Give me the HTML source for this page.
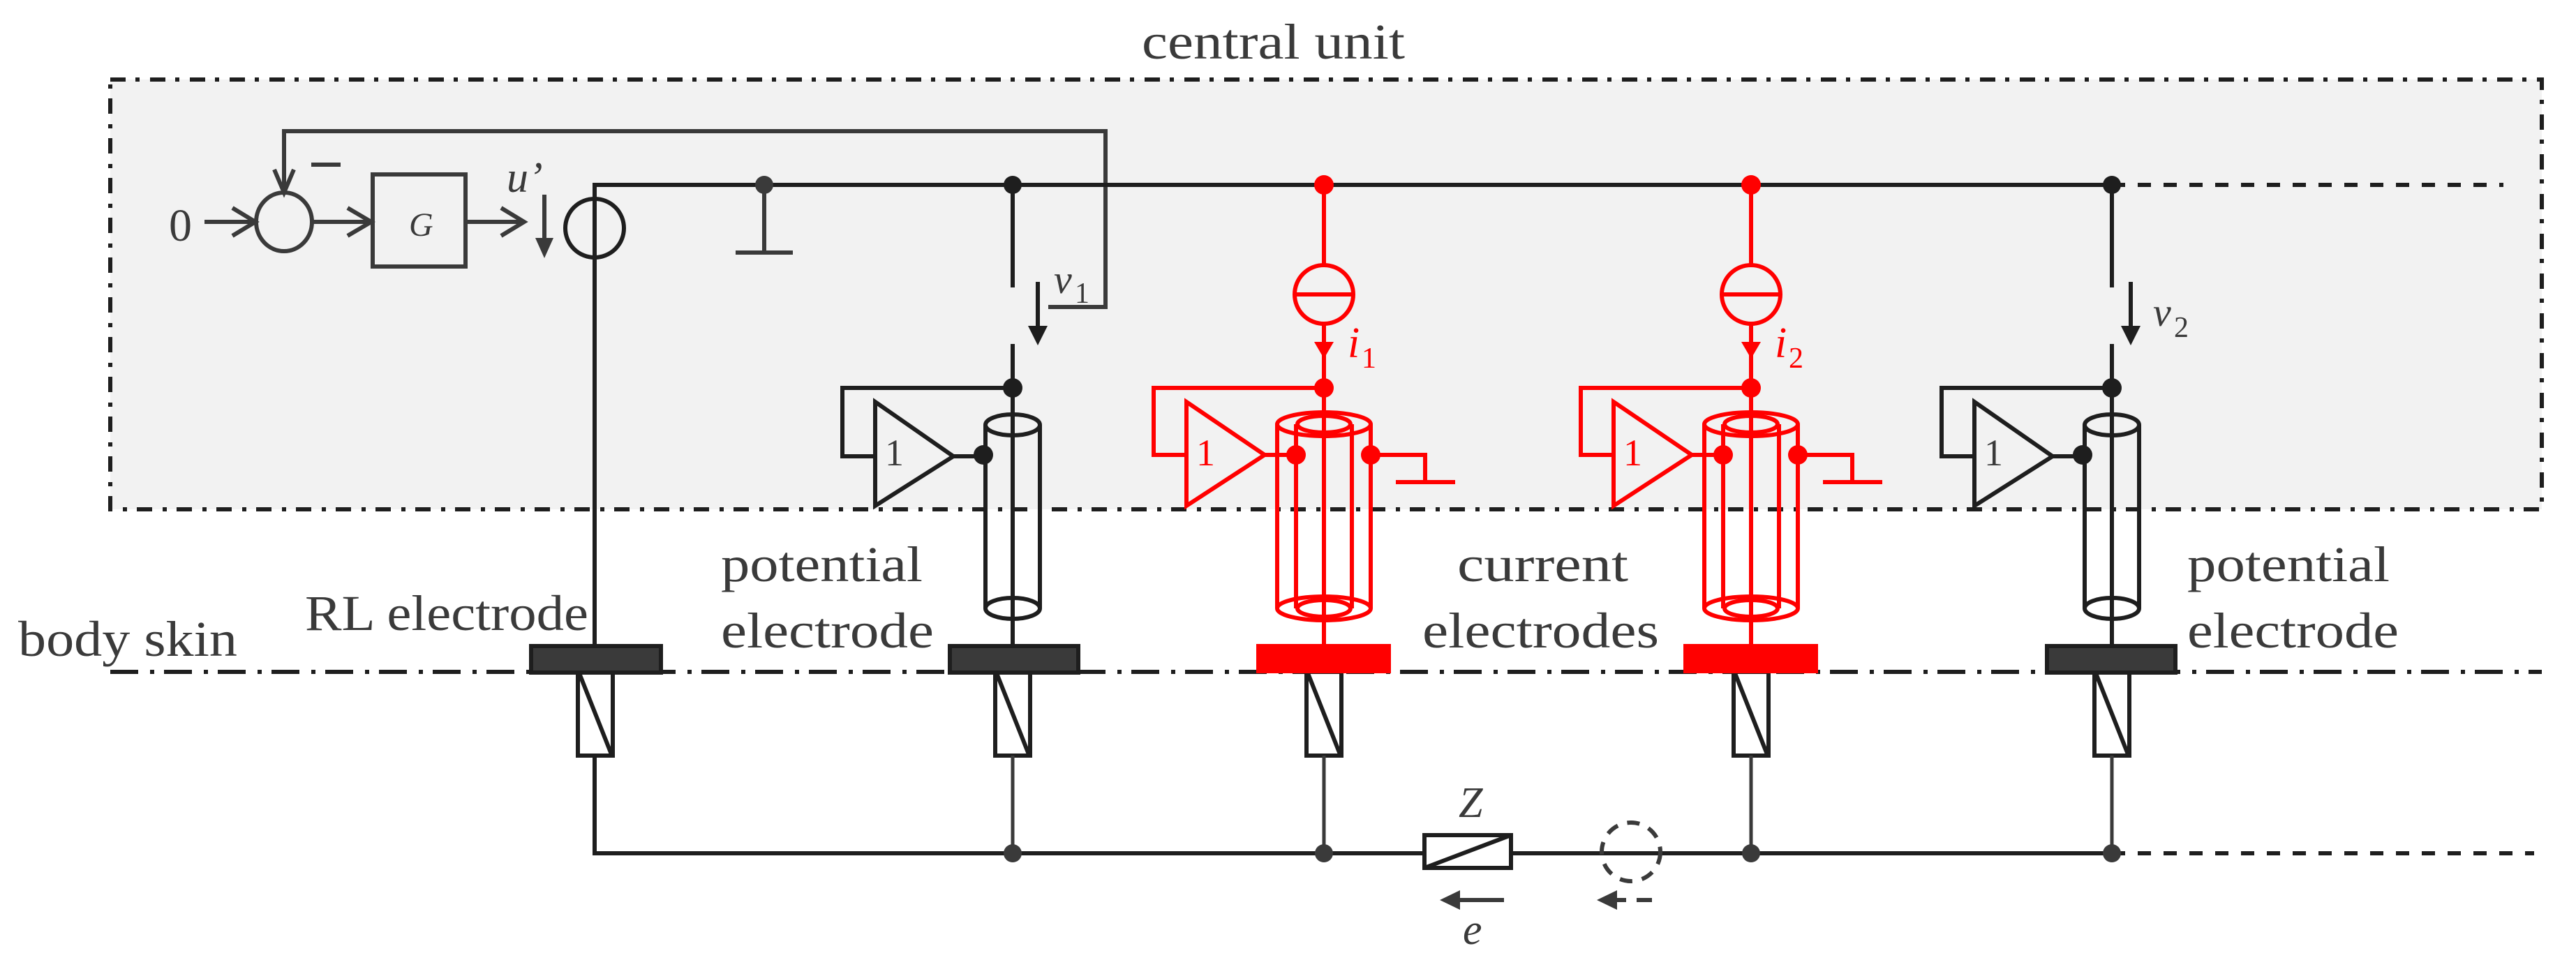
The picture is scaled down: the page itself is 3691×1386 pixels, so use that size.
<!DOCTYPE html>
<html><head><meta charset="utf-8"><style>
html,body{margin:0;padding:0;background:#fff;}
svg{display:block;}
text{font-family:"Liberation Serif",serif;fill:#3a3a3a;}
</style></head><body>
<svg width="3691" height="1386" viewBox="0 0 3691 1386" xmlns="http://www.w3.org/2000/svg">
<!-- central unit box -->
<rect x="158" y="114" width="3484" height="616" fill="#f2f2f2" stroke="#1e1e1e" stroke-width="6" stroke-dasharray="22 14 6 15"/>
<text x="1636" y="84" font-size="72" textLength="377" lengthAdjust="spacingAndGlyphs">central unit</text>

<!-- skin line -->
<line x1="158" y1="963" x2="3642" y2="963" stroke="#1e1e1e" stroke-width="6" stroke-dasharray="40 17 6 14"/>

<g stroke="#3a3a3a" stroke-width="6" fill="none">
<polyline points="1502,440 1584,440 1584,188 407,188 407,270"/>
<polyline points="393,243 407,276 421,243"/>
<line x1="446" y1="236" x2="488" y2="236"/>
<ellipse cx="407" cy="318" rx="40" ry="42"/>
<line x1="293" y1="318" x2="364" y2="318"/>
<polyline points="333,298 366,318 333,338"/>
<line x1="448" y1="318" x2="530" y2="318"/>
<polyline points="498,298 532,318 498,338"/>
<rect x="534" y="250" width="133" height="132"/>
<line x1="667" y1="318" x2="749" y2="318"/>
<polyline points="718,298 751,318 718,338"/>
<line x1="780" y1="279" x2="780" y2="345"/>
<line x1="1095" y1="265" x2="1095" y2="362"/>
<line x1="1054" y1="362" x2="1136" y2="362"/>
</g>
<polygon points="767,341 793,341 780,370" fill="#3a3a3a"/>
<text x="242" y="345" font-size="66">0</text>
<text x="586" y="338" font-size="48" font-style="italic">G</text>
<text x="726" y="275" font-size="62" font-style="italic">u’</text>

<g stroke="#1e1e1e" stroke-width="6" fill="none">
<polyline points="852,1083 852,265 3026,265"/>
<line x1="3026" y1="265" x2="3587" y2="265" stroke-dasharray="19 18"/>
<ellipse cx="852" cy="327" rx="42" ry="42"/>
<polyline points="852,1083 852,1223 2041,1223"/>
<line x1="2165" y1="1223" x2="3026" y2="1223"/>
<line x1="3026" y1="1223" x2="3631" y2="1223" stroke-dasharray="19 18"/>
<rect x="2041" y="1197" width="124" height="47"/>
<line x1="2041" y1="1244" x2="2165" y2="1197"/>
</g>
<circle cx="1095" cy="265" r="13" fill="#3a3a3a"/>

<text x="2090" y="1171" font-size="62" font-style="italic">Z</text>
<line x1="2085" y1="1290" x2="2155" y2="1290" stroke="#3a3a3a" stroke-width="6"/>
<polygon points="2063,1290 2092,1276 2092,1304" fill="#3a3a3a"/>
<text x="2096" y="1353" font-size="62" font-style="italic">e</text>
<circle cx="2337" cy="1221" r="42" fill="none" stroke="#3a3a3a" stroke-width="6" stroke-dasharray="18 14"/>
<polygon points="2288,1290 2317,1276 2317,1304" fill="#3a3a3a"/>
<line x1="2315" y1="1290" x2="2330" y2="1290" stroke="#3a3a3a" stroke-width="6"/>
<line x1="2345" y1="1290" x2="2367" y2="1290" stroke="#3a3a3a" stroke-width="6"/>

<g stroke="#1e1e1e" stroke-width="6" fill="#fff">
<rect x="828" y="963" width="50" height="120"/><line x1="830" y1="965" x2="876" y2="1081"/>
<rect x="1426" y="963" width="50" height="120"/><line x1="1428" y1="965" x2="1474" y2="1081"/>
<rect x="1872" y="963" width="50" height="120"/><line x1="1874" y1="965" x2="1920" y2="1081"/>
<rect x="2484" y="963" width="50" height="120"/><line x1="2486" y1="965" x2="2532" y2="1081"/>
<rect x="3001" y="963" width="50" height="120"/><line x1="3003" y1="965" x2="3049" y2="1081"/>
</g>
<g stroke="#3a3a3a" stroke-width="5">
<line x1="1451" y1="1083" x2="1451" y2="1223"/>
<line x1="1897" y1="1083" x2="1897" y2="1223"/>
<line x1="2509" y1="1083" x2="2509" y2="1223"/>
<line x1="3026" y1="1083" x2="3026" y2="1223"/>
</g>
<g fill="#3a3a3a">
<circle cx="1451" cy="1223" r="13"/><circle cx="1897" cy="1223" r="13"/>
<circle cx="2509" cy="1223" r="13"/><circle cx="3026" cy="1223" r="13"/>
</g>

<g stroke="#1e1e1e" stroke-width="6" fill="#3a3a3a">
<rect x="761" y="926" width="186" height="38"/>
<rect x="1361" y="926" width="184" height="38"/>
<rect x="2933" y="926" width="184" height="38"/>
</g>
<rect x="1800" y="923" width="193" height="42" fill="#ff0000"/>
<rect x="2412" y="923" width="193" height="42" fill="#ff0000"/>

<g stroke="#1e1e1e" stroke-width="6" fill="none">
<line x1="1451" y1="265" x2="1451" y2="412"/>
<line x1="1451" y1="493" x2="1451" y2="926"/>
<polyline points="1451,556 1207,556 1207,654 1254,654"/>
<polygon points="1254,576 1366,654 1254,725"/>
<line x1="1366" y1="654" x2="1412" y2="654"/>
<line x1="1412" y1="609" x2="1412" y2="872"/>
<line x1="1490" y1="609" x2="1490" y2="872"/>
<ellipse cx="1451" cy="609" rx="39" ry="15"/>
<ellipse cx="1451" cy="872" rx="39" ry="15"/>
<line x1="1487" y1="404" x2="1487" y2="470"/>
<line x1="3026" y1="265" x2="3026" y2="412"/>
<line x1="3026" y1="493" x2="3026" y2="926"/>
<polyline points="3026,556 2782,556 2782,654 2829,654"/>
<polygon points="2829,576 2941,654 2829,725"/>
<line x1="2941" y1="654" x2="2987" y2="654"/>
<line x1="2987" y1="609" x2="2987" y2="872"/>
<line x1="3065" y1="609" x2="3065" y2="872"/>
<ellipse cx="3026" cy="609" rx="39" ry="15"/>
<ellipse cx="3026" cy="872" rx="39" ry="15"/>
<line x1="3053" y1="404" x2="3053" y2="470"/>
</g>
<g fill="#1e1e1e">
<circle cx="1451" cy="265" r="13"/><circle cx="1451" cy="556" r="14"/><circle cx="1409" cy="652" r="14"/>
<circle cx="3026" cy="265" r="13"/><circle cx="3026" cy="556" r="14"/><circle cx="2984" cy="652" r="14"/>
<polygon points="1473,467 1501,467 1487,495"/>
<polygon points="3039,467 3067,467 3053,495"/>
</g>
<text x="1268" y="667" font-size="54">1</text>
<text x="2843" y="667" font-size="54">1</text>
<text x="1510" y="420" font-size="58" font-style="italic">v</text><text x="1540" y="434" font-size="42">1</text>
<text x="3085" y="467" font-size="58" font-style="italic">v</text><text x="3115" y="483" font-size="42">2</text>

<g stroke="#ff0000" stroke-width="6" fill="none">
<line x1="1897" y1="265" x2="1897" y2="380"/>
<line x1="1897" y1="464" x2="1897" y2="923"/>
<ellipse cx="1897" cy="422" rx="42" ry="42"/>
<line x1="1855" y1="422" x2="1939" y2="422"/>
<polyline points="1897,556 1653,556 1653,652 1700,652"/>
<polygon points="1700,576 1812,652 1700,725"/>
<line x1="1812" y1="652" x2="1857" y2="652"/>
<line x1="1830" y1="608" x2="1830" y2="872"/><line x1="1964" y1="608" x2="1964" y2="872"/>
<line x1="1857" y1="608" x2="1857" y2="872"/><line x1="1937" y1="608" x2="1937" y2="872"/>
<ellipse cx="1897" cy="608" rx="67" ry="17"/><ellipse cx="1897" cy="608" rx="38" ry="12"/>
<ellipse cx="1897" cy="872" rx="67" ry="17"/><ellipse cx="1897" cy="872" rx="38" ry="12"/>
<polyline points="1964,652 2042,652 2042,691"/>
<line x1="2000" y1="691" x2="2085" y2="691"/>

<line x1="2509" y1="265" x2="2509" y2="380"/>
<line x1="2509" y1="464" x2="2509" y2="923"/>
<ellipse cx="2509" cy="422" rx="42" ry="42"/>
<line x1="2467" y1="422" x2="2551" y2="422"/>
<polyline points="2509,556 2265,556 2265,652 2312,652"/>
<polygon points="2312,576 2424,652 2312,725"/>
<line x1="2424" y1="652" x2="2469" y2="652"/>
<line x1="2442" y1="608" x2="2442" y2="872"/><line x1="2576" y1="608" x2="2576" y2="872"/>
<line x1="2469" y1="608" x2="2469" y2="872"/><line x1="2549" y1="608" x2="2549" y2="872"/>
<ellipse cx="2509" cy="608" rx="67" ry="17"/><ellipse cx="2509" cy="608" rx="38" ry="12"/>
<ellipse cx="2509" cy="872" rx="67" ry="17"/><ellipse cx="2509" cy="872" rx="38" ry="12"/>
<polyline points="2576,652 2654,652 2654,691"/>
<line x1="2612" y1="691" x2="2697" y2="691"/>
</g>
<g fill="#ff0000">
<circle cx="1897" cy="265" r="14"/><circle cx="1897" cy="556" r="14"/>
<circle cx="1857" cy="652" r="14"/><circle cx="1964" cy="652" r="14"/>
<polygon points="1883,490 1911,490 1897,514"/>
<circle cx="2509" cy="265" r="14"/><circle cx="2509" cy="556" r="14"/>
<circle cx="2469" cy="652" r="14"/><circle cx="2576" cy="652" r="14"/>
<polygon points="2495,490 2523,490 2509,514"/>
</g>
<text x="1714" y="667" font-size="54" style="fill:#ff0000">1</text>
<text x="2326" y="667" font-size="54" style="fill:#ff0000">1</text>
<text x="1931" y="512" font-size="62" font-style="italic" style="fill:#ff0000">i</text><text x="1951" y="527" font-size="42" style="fill:#ff0000">1</text>
<text x="2543" y="512" font-size="62" font-style="italic" style="fill:#ff0000">i</text><text x="2563" y="527" font-size="42" style="fill:#ff0000">2</text>

<text x="26" y="940" font-size="72" textLength="314" lengthAdjust="spacingAndGlyphs">body skin</text>
<text x="437" y="903" font-size="72" textLength="406" lengthAdjust="spacingAndGlyphs">RL electrode</text>
<text x="1033" y="833" font-size="72" textLength="289" lengthAdjust="spacingAndGlyphs">potential</text>
<text x="1033" y="928" font-size="72" textLength="305" lengthAdjust="spacingAndGlyphs">electrode</text>
<text x="2088" y="833" font-size="72" textLength="245" lengthAdjust="spacingAndGlyphs">current</text>
<text x="2038" y="928" font-size="72" textLength="339" lengthAdjust="spacingAndGlyphs">electrodes</text>
<text x="3134" y="833" font-size="72" textLength="290" lengthAdjust="spacingAndGlyphs">potential</text>
<text x="3134" y="928" font-size="72" textLength="303" lengthAdjust="spacingAndGlyphs">electrode</text>
</svg>
</body></html>
